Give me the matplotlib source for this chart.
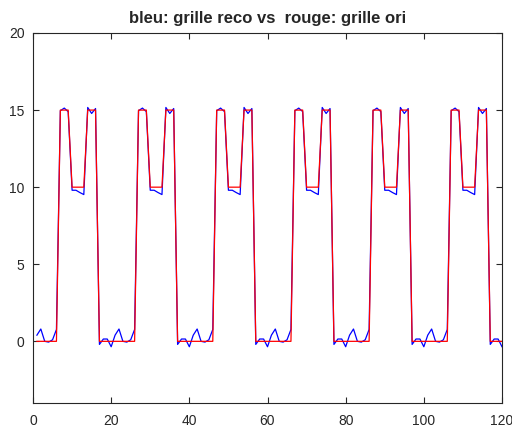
import numpy as np
import matplotlib
matplotlib.use('Agg')
import matplotlib.pyplot as plt
import matplotlib.ticker as ticker

# ─── DATA (one period of 20 samples, repeated over x = 1..120) ───────────────
x = np.arange(1, 121)

ori_period = [0, 0, 0, 0, 0, 0, 15, 15, 15, 10,
              10, 10, 10, 15, 15, 15, 0, 0, 0, 0]
reco_period = [0.40, 0.80, 0.00, -0.05, 0.10, 0.77, 14.96, 15.13, 14.90, 9.80,
               9.80, 9.65, 9.52, 15.17, 14.78, 15.10, -0.20, 0.15, 0.15, -0.35]

grille_ori = np.tile(ori_period, 6)
grille_reco = np.tile(reco_period, 6)

# ─── PLOT ─────────────────────────────────────────────────────────────────────
plt.rcParams.update({
    'font.family': ['Liberation Sans', 'DejaVu Sans'],
    'axes.edgecolor': '#262626',
    'xtick.color': '#262626',
    'ytick.color': '#262626',
    'text.color': '#262626',
})

fig = plt.figure(figsize=(5.12, 4.28), dpi=100)
ax = fig.add_axes([33 / 512, 1 - 403 / 428, 469 / 512, 370 / 428])

ax.plot(x, grille_reco, color='blue', lw=0.9)
ax.plot(x, grille_ori, color='red', lw=0.9)

ax.set_xlim(0, 120)
ax.set_ylim(-4, 20)
ax.xaxis.set_major_locator(ticker.MultipleLocator(20))
ax.set_yticks([0, 5, 10, 15, 20])
ax.tick_params(direction='in', top=True, right=True, length=4, width=0.8,
               labelsize=10)
ax.tick_params(axis='x', pad=8)
ax.tick_params(axis='y', pad=6)
for s in ax.spines.values():
    s.set_linewidth(0.8)

ax.set_title('bleu: grille reco vs  rouge: grille ori', fontsize=12,
             fontweight='bold', pad=7)

fig.savefig('out.png', dpi=100, facecolor='white')
